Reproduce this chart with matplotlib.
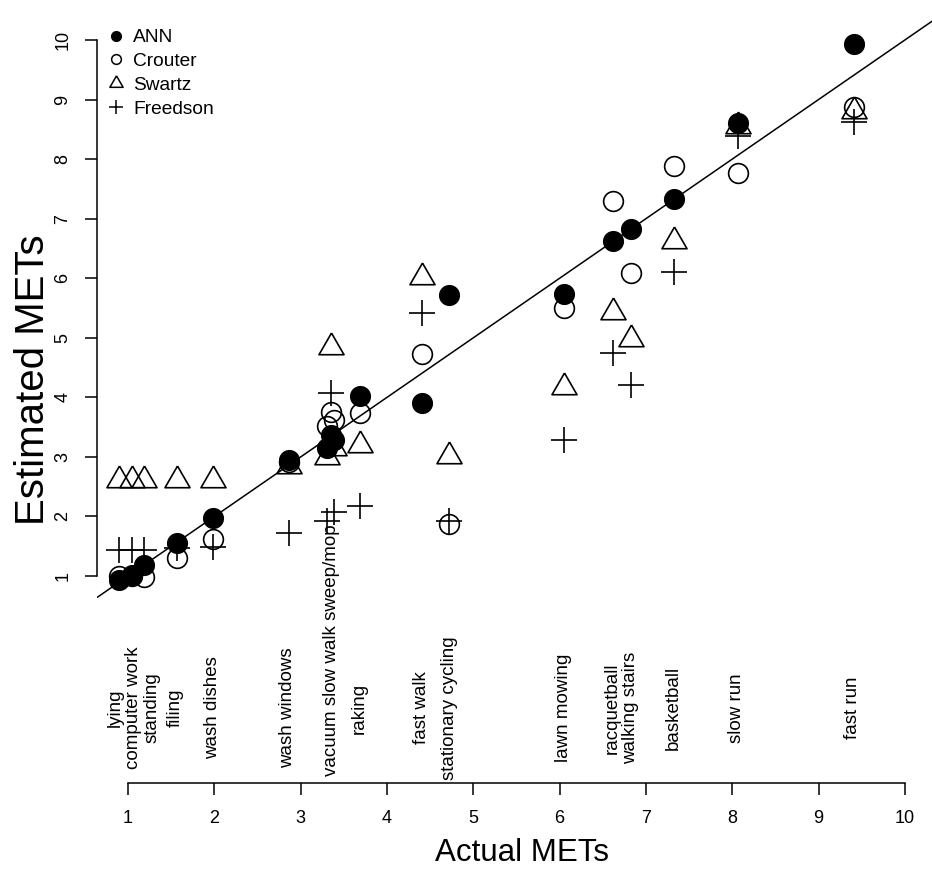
import numpy as np
import matplotlib as mpl
mpl.use('Agg')
import matplotlib.pyplot as plt
from matplotlib.lines import Line2D

plt.rcParams['font.family'] = ['Liberation Sans', 'DejaVu Sans']

### data
activities = ['lying', 'computer work', 'standing', 'filing', 'wash dishes',
              'wash windows', 'vacuum', 'slow walk', 'sweep/mop', 'raking',
              'fast walk', 'stationary cycling', 'lawn mowing', 'racquetball',
              'walking stairs', 'basketball', 'slow run', 'fast run']
actual = [0.90, 1.04, 1.19, 1.57, 1.98, 2.86, 3.31, 3.35, 3.38, 3.69,
          4.40, 4.72, 6.05, 6.62, 6.83, 7.33, 8.07, 9.41]
ann = [0.93, 1.02, 1.18, 1.56, 1.97, 2.95, 3.15, 3.37, 3.28, 4.03,
       3.91, 5.71, 5.73, 6.63, 6.83, 7.33, 8.60, 9.94]
crouter = [1.00, 1.00, 0.99, 1.30, 1.62, 2.92, 3.52, 3.76, 3.62, 3.74,
           4.72, 1.88, 5.50, 7.29, 6.08, 7.89, 7.76, 8.88]
swartz = [2.61, 2.61, 2.61, 2.61, 2.62, 2.85, 3.00, 4.84, 3.15, 3.20,
          6.02, 3.02, 4.17, 5.43, 4.98, 6.63, 8.55, 8.80]
freedson = [1.43, 1.43, 1.43, 1.47, 1.49, 1.72, 1.93, 4.07, 2.08, 2.17,
            5.41, 1.92, 3.28, 4.74, 4.20, 6.11, 8.38, 8.62]

### activity labels under the plot (x where each label sits)
label_text = ['lying', 'computer work', 'standing', 'filing', 'wash dishes',
              'wash windows', 'vacuum slow walk sweep/mop', 'raking',
              'fast walk', 'stationary cycling', 'lawn mowing', 'racquetball',
              'walking stairs', 'basketball', 'slow run', 'fast run']
label_x = [0.85, 1.06, 1.28, 1.55, 1.98, 2.85, 3.355, 3.68, 4.40, 4.72,
           6.04, 6.61, 6.82, 7.32, 8.05, 9.39]

W, H = 932, 871
def fpos(l, t, r, b):
    return [l / W, 1 - b / H, (r - l) / W, (b - t) / H]

fig = plt.figure(figsize=(W / 100, H / 100), dpi=100)

# equilateral triangle like R pch=2
tri = [(0, 1), (-0.866, -0.5), (0.866, -0.5), (0, 1)]

#### top panel: estimated vs actual
ax = fig.add_axes(fpos(97, 18.5, 936, 597.5))
ax.set_xlim(0.64, 10.36)
ax.set_ylim(0.64, 10.36)
for s in ['top', 'right', 'bottom']:
    ax.spines[s].set_visible(False)
ax.spines['left'].set_bounds(1, 10)
ax.spines['left'].set_linewidth(1.1)
ax.set_xticks([])
ax.set_yticks(range(1, 11))
ax.tick_params(axis='y', length=8.6, width=1.1, labelsize=13, pad=10)
for lab in ax.get_yticklabels():
    lab.set_rotation(90)
    lab.set_va('center')

ax.plot([0, 11], [0, 11], color='black', lw=1.1, zorder=1)

ax.plot(actual, freedson, ls='none', marker='+', ms=18.5, mew=1.2, color='black', zorder=2)
ax.plot(actual, swartz, ls='none', marker=tri, ms=20.8, mew=1.2, mfc='none', mec='black', zorder=2)
ax.plot(actual, crouter, ls='none', marker='o', ms=14.2, mew=1.2, mfc='none', mec='black', zorder=2)
ax.plot(actual, ann, ls='none', marker='o', ms=14.2, color='black', zorder=3)

handles = [Line2D([], [], ls='none', marker='o', ms=7, color='black'),
           Line2D([], [], ls='none', marker='o', ms=7, mew=1.1, mfc='none', mec='black'),
           Line2D([], [], ls='none', marker=tri, ms=11, mew=1.1, mfc='none', mec='black'),
           Line2D([], [], ls='none', marker='+', ms=10, mew=1.1, color='black')]
ax.legend(handles, ['ANN', 'Crouter', 'Swartz', 'Freedson'],
          loc='upper left', bbox_to_anchor=(106 / W, 1 - 29 / H),
          bbox_transform=fig.transFigure, frameon=False, fontsize=13.8,
          handlelength=1.0, handletextpad=0.42, labelspacing=0.33,
          borderpad=0, borderaxespad=0)

#### bottom panel: activity names and x axis
ax2 = fig.add_axes(fpos(97, 600, 936, 783))
ax2.set_xlim(0.64, 10.36)
ax2.set_ylim(783, 600)
ax2.patch.set_visible(False)
for s in ['top', 'right', 'left']:
    ax2.spines[s].set_visible(False)
ax2.spines['bottom'].set_bounds(1, 10)
ax2.spines['bottom'].set_linewidth(1.1)
ax2.set_yticks([])
ax2.set_xticks(range(1, 11))
ax2.tick_params(axis='x', length=8.6, width=1.1, labelsize=13, pad=11)

for name, xl in zip(label_text, label_x):
    yl = 650 if name.startswith('vacuum') else 708
    ax2.text(xl, yl, name, rotation=90, ha='center', va='center', fontsize=13.5)

fig.text(522 / W, 1 - 853 / H, 'Actual METs', ha='center', va='center', fontsize=22.5)
fig.text(33 / W, 1 - 380 / H, 'Estimated METs', ha='center', va='center',
         rotation=90, fontsize=29)

fig.savefig('out.png', dpi=100)
plt.close()
